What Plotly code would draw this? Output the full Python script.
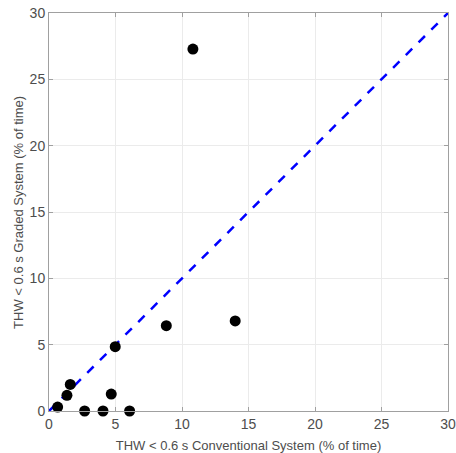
import plotly.graph_objects as go

conventional = [10.82, 14.0, 8.82, 4.98, 1.60, 1.35, 0.65, 4.68, 2.68, 4.06, 6.06]
graded = [27.28, 6.79, 6.43, 4.85, 2.0, 1.18, 0.3, 1.28, 0.0, 0.0, 0.0]
ref_line = [0, 30]
ticks = [0, 5, 10, 15, 20, 25, 30]
x_title = "THW < 0.6 s Conventional System (% of time)"
y_title = "THW < 0.6 s Graded System (% of time)"

fig = go.Figure()
fig.add_trace(go.Scatter(x=ref_line, y=ref_line, mode="lines",
                         line=dict(color="#0000ff", width=2.5, dash="dash"),
                         showlegend=False, cliponaxis=False))
fig.add_trace(go.Scatter(x=conventional, y=graded, mode="markers",
                         marker=dict(color="black", size=11),
                         showlegend=False, cliponaxis=False))

axis_common = dict(range=[0, 30], tickvals=ticks, showgrid=True, automargin=False,
                   gridcolor="#ebebeb", gridwidth=1, zeroline=False,
                   showline=True, linecolor="#a0a0a0", linewidth=1, mirror="ticks",
                   ticks="inside", ticklen=4, tickcolor="#a0a0a0",
                   tickfont=dict(family="Liberation Sans, Arial", size=14, color="#4d4d4d"))

fig.update_layout(
    width=456, height=453,
    margin=dict(l=49, r=8, t=13, b=42, autoexpand=False),
    plot_bgcolor="white", paper_bgcolor="white",
    xaxis=dict(**axis_common,
               title=dict(text=x_title,
                          font=dict(family="Liberation Sans, Arial", size=13, color="#4d4d4d"))),
    yaxis=dict(**axis_common),
    annotations=[dict(text=y_title, xref="paper", yref="paper", x=-0.078, y=0.5,
                      xanchor="center", yanchor="middle", textangle=-90, showarrow=False,
                      font=dict(family="Liberation Sans, Arial", size=13, color="#4d4d4d"))],
)
fig.write_html("out.html", config={"displayModeBar": False},
               post_script="document.body.style.margin='0';document.body.style.overflow='hidden';")
